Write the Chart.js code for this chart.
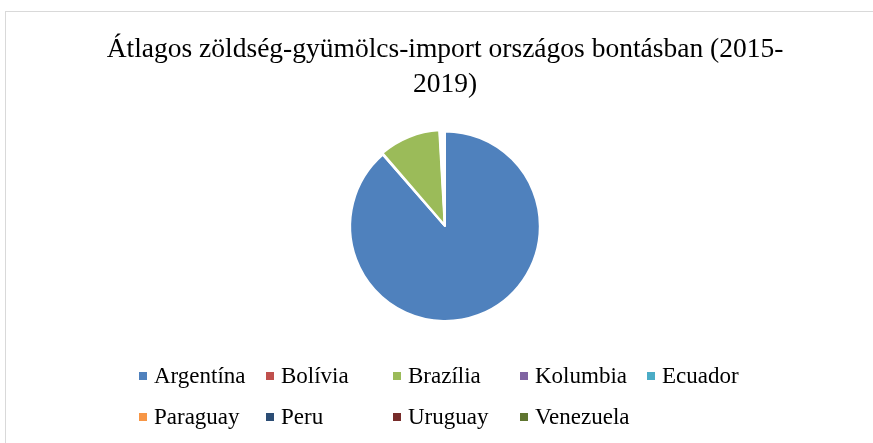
<!DOCTYPE html>
<html>
<head>
<meta charset="utf-8">
<script src="https://cdn.jsdelivr.net/npm/chart.js@4"></script>
<style>
    body { margin: 0; background: #fff; }
    #Wrap { position: relative; width: 873px; height: 443px; overflow: hidden; }
    #Frame { position: absolute; left: 5px; top: 11px; width: 900px; height: 500px; border-top: 1px solid #d9d9d9; border-left: 1px solid #d9d9d9; }
    #ChartCanvas { position: absolute; left: 0; top: 0; }
</style>
</head>
<body>
<div id="Wrap">
    <div id="Frame"></div>
    <canvas id="ChartCanvas" width="873" height="443"></canvas>
</div>
<script>
let Countries = ['Argentína', 'Bolívia', 'Brazília', 'Kolumbia', 'Ecuador', 'Paraguay', 'Peru', 'Uruguay', 'Venezuela']
let ImportShare = [88.6, 0.1, 10.4, 0.1, 0.2, 0.1, 0.3, 0.15, 0.05]
let SliceColors = ['#4F81BD', '#C0504D', '#9BBB59', '#8064A2', '#4BACC6', '#F79646', '#2C4D75', '#772C2A', '#5F7530']
let TitleLines = ['Átlagos zöldség-gyümölcs-import országos bontásban (2015-', '2019)']

// legend laid out in fixed columns, like the office chart
let GridLegend = {
    id: 'gridLegend',
    afterDraw: function (chart) {
        let ctx = chart.ctx
        let labels = chart.data.labels
        let colors = chart.data.datasets[0].backgroundColor
        ctx.save()
        ctx.font = '23px "Liberation Serif", serif'
        ctx.textBaseline = 'middle'
        for (let i = 0; i < labels.length; i++) {
            let col = i % 5
            let row = Math.floor(i / 5)
            let x = 139 + col * 127
            let y = 376 + row * 41
            ctx.fillStyle = colors[i]
            ctx.fillRect(x, y - 4, 8, 8)
            ctx.fillStyle = '#000'
            ctx.fillText(labels[i], x + 15, y + 1)
        }
        ctx.restore()
    }
}

new Chart(document.getElementById('ChartCanvas'), {
    type: 'pie',
    data: {
        labels: Countries,
        datasets: [{
            data: ImportShare,
            backgroundColor: SliceColors,
            borderColor: '#fff',
            borderWidth: 2,
            offset: [0, 0, 4, 0, 0, 0, 0, 0, 0]
        }]
    },
    plugins: [GridLegend],
    options: {
        responsive: false,
        animation: false,
        devicePixelRatio: 1,
        layout: { padding: { left: 17, right: 0, top: 0, bottom: 119 } },
        plugins: {
            legend: { display: false },
            tooltip: { enabled: false },
            title: {
                display: true,
                text: TitleLines,
                color: '#000',
                font: { family: '"Liberation Serif", serif', size: 27.5, weight: 'normal', lineHeight: 1.28 },
                padding: { top: 32, bottom: 26 }
            }
        }
    }
})
</script>
</body>
</html>
